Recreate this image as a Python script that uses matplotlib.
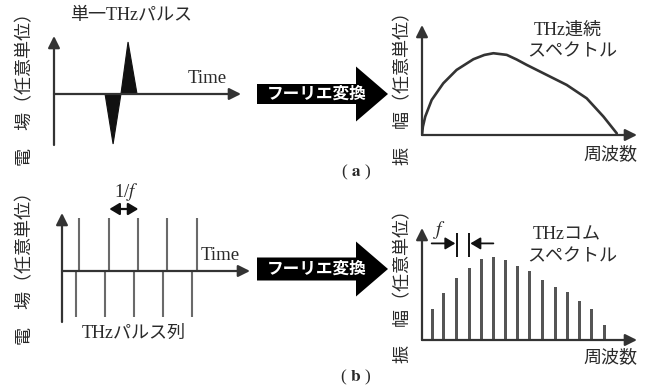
"""
THz pulse / Fourier transform / THz spectrum schematic (a) single pulse, (b) pulse train -> comb
"""

import numpy as np
import matplotlib
matplotlib.use('Agg')
import matplotlib.pyplot as plt
from matplotlib.patches import FancyArrow


# ============================================================================
# DATA
# ============================================================================

# (a) single THz pulse: time (0..1 along the axis) and field (1 = 50 px)
single_pulse_t = [0.273, 0.316, 0.358, 0.396, 0.444]
single_pulse_E = [0.0, -1.0, 0.0, 1.04, 0.0]

# (a) continuous spectrum: frequency (0..1) and amplitude (peak ~ 1)
cont_freq = [0.0, 0.004, 0.015, 0.045, 0.099, 0.161, 0.239, 0.290, 0.332,
             0.394, 0.440, 0.487, 0.580, 0.673, 0.766, 0.844, 0.906]
cont_amp = [0.0, 0.10, 0.224, 0.427, 0.630, 0.793, 0.923, 0.975, 0.996,
            0.976, 0.920, 0.854, 0.732, 0.610, 0.447, 0.224, 0.02]

# (b) pulse train: positive and negative spikes
train_t_up = [0.090, 0.252, 0.406, 0.560, 0.716]
train_E_up = [1.06, 1.06, 1.06, 1.06, 1.06]
train_t_down = [0.073, 0.229, 0.383, 0.536, 0.690]
train_E_down = [-0.92, -0.92, -0.92, -0.92, -0.92]

# (b) comb spectrum teeth
comb_freq = [0.048, 0.102, 0.161, 0.219, 0.276, 0.332, 0.389, 0.445,
             0.502, 0.561, 0.619, 0.676, 0.732, 0.789, 0.847]
comb_amp = [0.37, 0.57, 0.74, 0.87, 0.97, 1.00, 0.96, 0.89,
            0.83, 0.72, 0.64, 0.58, 0.47, 0.37, 0.18]

YLABEL_TIME = '電　場（任意単位）'
YLABEL_FREQ = '振　幅（任意単位）'
ARROW_TEXT = 'フーリエ変換'

# ============================================================================

W, H = 650, 389
LINE = '#333333'
TEXT = '#2a2a2a'
MIXED = ['Liberation Serif', 'Noto Sans CJK JP']
CJK = ['Noto Sans CJK JP', 'DejaVu Sans']

plt.rcParams['mathtext.fontset'] = 'stix'

fig = plt.figure(figsize=(W / 100, H / 100), dpi=100)
fig.patch.set_facecolor('white')

# overlay in pixel coordinates for texts and block arrows
ov = fig.add_axes([0, 0, 1, 1])
ov.set_xlim(0, W)
ov.set_ylim(H, 0)
ov.axis('off')


def panel(x0, y_top, x1, y_bot):
    ax = fig.add_axes([x0 / W, 1 - y_bot / H, (x1 - x0) / W, (y_bot - y_top) / H])
    ax.set_facecolor('none')
    ax.axis('off')
    return ax


def draw_axes_arrows(ax, xmax, ymin, ymax):
    kw = dict(arrowstyle='-|>,head_length=0.5,head_width=0.25', color=LINE,
              lw=1.6, shrinkA=0, shrinkB=0, mutation_scale=14)
    ax.annotate('', xy=(0, ymax), xytext=(0, ymin), arrowprops=kw,
                annotation_clip=False)
    ax.annotate('', xy=(xmax, 0), xytext=(0, 0), arrowprops=kw,
                annotation_clip=False)


# ---------------- (a) left: single pulse ----------------
ax1 = panel(54, 36, 241, 145)
ax1.set_xlim(0, 1)
ax1.set_ylim(-1.02, 1.16)
draw_axes_arrows(ax1, 1, -1.02, 1.16)
ax1.fill(single_pulse_t[:3], single_pulse_E[:3], color='#111111', lw=0.8)
ax1.fill(single_pulse_t[2:], single_pulse_E[2:], color='#111111', lw=0.8)

# ---------------- (a) right: continuous spectrum ----------------
ax2 = panel(422, 25, 637, 135)
ax2.set_xlim(0, 1)
ax2.set_ylim(0, 1.34)
draw_axes_arrows(ax2, 1, 0, 1.34)
ax2.plot(cont_freq, cont_amp, color=LINE, lw=1.9, solid_capstyle='round',
         solid_joinstyle='round')

# ---------------- (b) left: pulse train ----------------
ax3 = panel(62, 213, 250, 322)
ax3.set_xlim(0, 1)
ax3.set_ylim(-1.02, 1.16)
draw_axes_arrows(ax3, 1, -1.02, 1.16)
ax3.vlines(train_t_up, 0, train_E_up, color='#6a6a6a', lw=1.5)
ax3.vlines(train_t_down, train_E_down, 0, color='#6a6a6a', lw=1.5)
ax3.annotate('', xy=(train_t_up[2], 1.24), xytext=(train_t_up[1], 1.24),
             arrowprops=dict(arrowstyle='<|-|>,head_length=0.5,head_width=0.3',
                             color='#111111', lw=1.6, shrinkA=0, shrinkB=0,
                             mutation_scale=12),
             annotation_clip=False)

# ---------------- (b) right: comb spectrum ----------------
ax4 = panel(422, 228, 637, 340)
ax4.set_xlim(0, 1)
ax4.set_ylim(0, 1.345)
draw_axes_arrows(ax4, 1, 0, 1.345)
ax4.bar(comb_freq, comb_amp, width=0.014, color='#555555', linewidth=0)
# spacing marker between two teeth
ax4.vlines([comb_freq[2], comb_freq[3]], 1.0, 1.285, color='#111111', lw=1.4,
           clip_on=False)
akw = dict(arrowstyle='-|>,head_length=0.5,head_width=0.3', color='#111111',
           lw=1.3, shrinkA=0, shrinkB=0, mutation_scale=12)
ax4.annotate('', xy=(comb_freq[2] - 0.006, 1.16), xytext=(comb_freq[0] - 0.003, 1.16),
             arrowprops=akw, annotation_clip=False)
ax4.annotate('', xy=(comb_freq[3] + 0.006, 1.16), xytext=(comb_freq[5], 1.16),
             arrowprops=akw, annotation_clip=False)

# ---------------- block arrows "フーリエ変換" ----------------
for yc, bw in [(94, 20), (269, 23)]:
    ov.add_patch(FancyArrow(257, yc, 131, 0, width=bw, head_width=55,
                            head_length=32, length_includes_head=True,
                            color='black', lw=0))
    ov.text(317, yc, ARROW_TEXT, color='white', fontsize=12, fontweight='bold',
            family=CJK, ha='center', va='center')

# ---------------- texts ----------------
for x, yc in [(25, 85), (25, 264), (403, 84), (403, 282)]:
    label = YLABEL_TIME if x < 200 else YLABEL_FREQ
    ov.text(x, yc, label, rotation=90, fontsize=13, color=TEXT, family=CJK,
            ha='center', va='center')

ov.text(131, 15, '単一THzパルス', fontsize=13, color=TEXT, family=MIXED,
        ha='center', va='center')
ov.text(207, 78, 'Time', fontsize=13.5, color=TEXT, family=MIXED,
        ha='center', va='center')
ov.text(568, 30, 'THz連続', fontsize=13, color=TEXT, family=MIXED,
        ha='center', va='center')
ov.text(572, 52, 'スペクトル', fontsize=13, color=TEXT, family=MIXED,
        ha='center', va='center')
ov.text(610, 155, '周波数', fontsize=13, color=TEXT, family=MIXED,
        ha='center', va='center')
ov.text(356, 172, r'( $\mathbf{a}$ )', fontsize=12.5, color=TEXT, family=MIXED,
        ha='center', va='center')

ov.text(126, 192, '1/$f$', fontsize=13.5, color=TEXT, family=MIXED,
        ha='center', va='center')
ov.text(220, 256, 'Time', fontsize=13.5, color=TEXT, family=MIXED,
        ha='center', va='center')
ov.text(134, 333, 'THzパルス列', fontsize=13, color=TEXT, family=MIXED,
        ha='center', va='center')
ov.text(440, 230, '$f$', fontsize=14, color=TEXT, ha='center', va='center')
ov.text(567, 235, 'THzコム', fontsize=13, color=TEXT, family=MIXED,
        ha='center', va='center')
ov.text(572, 257, 'スペクトル', fontsize=13, color=TEXT, family=MIXED,
        ha='center', va='center')
ov.text(610, 358, '周波数', fontsize=13, color=TEXT, family=MIXED,
        ha='center', va='center')
ov.text(356, 377, r'( $\mathbf{b}$ )', fontsize=12.5, color=TEXT, family=MIXED,
        ha='center', va='center')

fig.savefig('out.png', dpi=100, facecolor='white')
